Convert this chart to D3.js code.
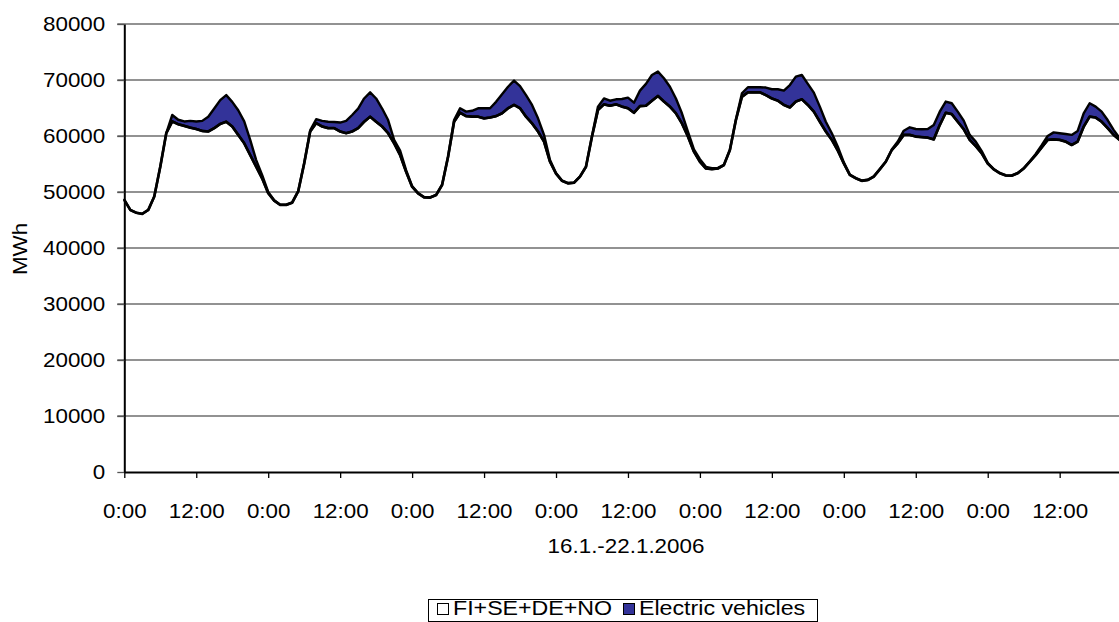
<!DOCTYPE html>
<html>
<head>
<meta charset="utf-8">
<script src="https://cdn.jsdelivr.net/npm/d3@7"></script>
<style>
  html, body { margin: 0; padding: 0; background: #fff; }
  svg { display: block; font-family: "Liberation Sans", Arial, sans-serif; }
</style>
</head>
<body>
<svg id="chart" width="1119" height="622"></svg>
<script>
// Hourly electricity demand, 16.1.–22.1.2006 (168 hours), MWh
const demand = [
  48600, 46800, 46300, 46100, 46800, 49200, 54500, 60500, 62600, 62100, 61800, 61500,
  61250, 60900, 60800, 61400, 62150, 62550, 61700, 60200, 58700, 56600, 54500, 52400,
  49800, 48450, 47700, 47700, 48100, 50100, 55100, 60800, 62300, 61700, 61400, 61400,
  60800, 60500, 60800, 61400, 62550, 63450, 62550, 61700, 60500, 58700, 56600, 53600,
  50950, 49750, 49050, 49000, 49450, 51250, 56300, 62550, 64150, 63550, 63450, 63450,
  63150, 63300, 63550, 64050, 64950, 65550, 64950, 63450, 62250, 60800, 59000, 55400,
  53300, 52000, 51550, 51650, 52750, 54500, 59900, 64650, 65650, 65400, 65650, 65250,
  64950, 64150, 65350, 65400, 66300, 67150, 66150, 65250, 64050, 62250, 59900, 57200,
  55400, 54200, 54100, 54200, 54800, 57500, 62850, 67000, 67800, 67800, 67800, 67300,
  66700, 66300, 65550, 65100, 66150, 66550, 65550, 64350, 62550, 60800, 59300, 57400,
  55100, 53050, 52450, 52000, 52150, 52750, 54050, 55400, 57500, 58700, 60200, 60200,
  59900, 59800, 59700, 59400, 61950, 64150, 63900, 62550, 61200, 59300, 58200, 56900,
  55100, 54050, 53350, 52950, 52900, 53350, 54200, 55400, 56600, 57950, 59300, 59400,
  59300, 59000, 58400, 59000, 61650, 63450, 63300, 62550, 61400, 60200, 59300, 57800
];

// Additional load from charging electric vehicles, MWh
const electricVehicles = [
   0,    0,    0,    0,    0,    0,    0,    0, 1150,  800,  800, 1200,
  1350, 1800, 2650, 3500, 4250, 4750, 4400, 4400, 3900, 2700, 1200,  600,
   200,  100,   50,   50,   50,   50,  100,  200,  700, 1000, 1150, 1100,
  1600, 2200, 2950, 3500, 4150, 4350, 4150, 3200, 2350,  600,  800,  300,
   100,   50,   50,   50,   50,   50,  100,  300,  800,  800, 1050, 1500,
  1800, 1650, 2550, 3400, 3850, 4350, 3950, 3850, 3300, 2350, 1200,  300,
   100,   50,   50,   50,   50,   50,  100,  600, 1050,  900,  900, 1350,
  1900, 1800, 2750, 3900, 4600, 4350, 4150, 3550, 2650, 1800,  900,  400,
   450,  300,  150,  100,   50,   50,  100,  600,  900,  900,  900, 1350,
  1650, 2050, 2550, 4000, 4450, 4350, 3750, 3400, 2700, 1750, 1200,  700,
   200,   50,   50,   50,   50,   50,   50,   50,  100,  300,  750, 1350,
  1350, 1400, 1550, 2550, 2400, 2000, 1950, 1800, 1550,  900,  800,  400,
   100,   50,   50,   50,   50,   50,   50,   50,  200,  400,  700, 1250,
  1200, 1350, 1800, 1900, 2400, 2400, 1950, 1800, 1450,  900,  300,  200
];

const seriesNames = ["FI+SE+DE+NO", "Electric vehicles"];
const yTicks = [0, 10000, 20000, 30000, 40000, 50000, 60000, 70000, 80000];
const xTickHours = [0, 12, 24, 36, 48, 60, 72, 84, 96, 108, 120, 132, 144, 156];
const xTickLabels = ["0:00", "12:00", "0:00", "12:00", "0:00", "12:00", "0:00",
                     "12:00", "0:00", "12:00", "0:00", "12:00", "0:00", "12:00"];
const xTitle = "16.1.-22.1.2006";
const yTitle = "MWh";

const colors = { base: "#ffffff", ev: "#333399" };
const SX = 1.12;           // horizontal stretch applied to all text
const FONT = 20;

const svg = d3.select("#chart");

const plotLeft = 124.3, plotTop = 24, plotBottom = 472;
const hourPx = 5.996;
const x = d3.scaleLinear().domain([0, 168]).range([plotLeft, plotLeft + 168 * hourPx]);
const y = d3.scaleLinear().domain([0, 80000]).range([plotBottom, plotTop]);

const rows = demand.map((d, i) => ({ hour: i, base: d, ev: electricVehicles[i] }));
const stacked = d3.stack().keys(["base", "ev"])(rows);

// horizontal gridlines
svg.append("g")
  .selectAll("line")
  .data(yTicks.filter(v => v > 0))
  .join("line")
  .attr("x1", plotLeft - 7).attr("x2", 1119)
  .attr("y1", d => y(d)).attr("y2", d => y(d))
  .attr("stroke", "#6e6e6e").attr("stroke-width", 1.3);

// EV band on top of the demand curve
const evArea = d3.area()
  .x((d, i) => x(i))
  .y0(d => y(d[0]))
  .y1(d => y(d[1]));
svg.append("path")
  .datum(stacked[1])
  .attr("d", evArea)
  .attr("fill", colors.ev)
  .attr("stroke", "#000")
  .attr("stroke-width", 2.4)
  .attr("stroke-linejoin", "round");

// demand outline
const baseLine = d3.line()
  .x((d, i) => x(i))
  .y(d => y(d[1]));
svg.append("path")
  .datum(stacked[0])
  .attr("d", baseLine)
  .attr("fill", "none")
  .attr("stroke", "#000")
  .attr("stroke-width", 2.7)
  .attr("stroke-linejoin", "round");

// y axis
const yAxis = svg.append("g")
  .attr("transform", `translate(${plotLeft},0)`)
  .call(d3.axisLeft(y).tickValues(yTicks).tickFormat(d3.format("d"))
    .tickSize(7).tickPadding(10).tickSizeOuter(0));
yAxis.select(".domain").attr("stroke", "#000").attr("stroke-width", 2);
yAxis.selectAll(".tick line").attr("stroke", "#555").attr("stroke-width", 1.3);
yAxis.selectAll("text")
  .attr("font-size", FONT).attr("fill", "#000")
  .attr("font-family", "Liberation Sans, Arial, sans-serif")
  .attr("transform", `scale(${SX},1)`);

// x axis
const xAxis = svg.append("g")
  .attr("transform", `translate(0,${plotBottom})`)
  .call(d3.axisBottom(x).tickValues(xTickHours)
    .tickFormat((d, i) => xTickLabels[i]).tickSize(6).tickPadding(26).tickSizeOuter(0));
xAxis.select(".domain").attr("stroke", "#000").attr("stroke-width", 2.2);
xAxis.selectAll(".tick line").attr("stroke", "#000").attr("stroke-width", 1.3);
xAxis.selectAll("text")
  .attr("font-size", FONT).attr("fill", "#000")
  .attr("font-family", "Liberation Sans, Arial, sans-serif")
  .attr("transform", `scale(${SX},1)`);

// axis titles
function label(px, py, txt, opts = {}) {
  const g = svg.append("g").attr("transform", `translate(${px},${py})${opts.rotate ? ` rotate(${opts.rotate})` : ""}`);
  return g.append("text")
    .attr("transform", `scale(${SX},1)`)
    .attr("text-anchor", opts.anchor || "middle")
    .attr("font-size", opts.size || FONT)
    .attr("fill", "#000")
    .text(txt);
}
label(626, 553, xTitle);
label(27, 249, yTitle, { rotate: -90 });

// legend
const lg = svg.append("g");
lg.append("rect")
  .attr("x", 428.5).attr("y", 599.5).attr("width", 389).attr("height", 22)
  .attr("fill", "#fff").attr("stroke", "#000").attr("stroke-width", 1);
const legendItems = [
  { name: seriesNames[0], fill: colors.base, sx: 437.5, tx: 453 },
  { name: seriesNames[1], fill: colors.ev, sx: 623.5, tx: 639 }
];
legendItems.forEach(it => {
  lg.append("rect")
    .attr("x", it.sx).attr("y", 603.5).attr("width", 11).attr("height", 11)
    .attr("fill", it.fill).attr("stroke", "#000").attr("stroke-width", 1);
  const g = lg.append("g").attr("transform", `translate(${it.tx},615)`);
  g.append("text")
    .attr("transform", `scale(${SX + 0.04},1)`)
    .attr("font-size", FONT).attr("fill", "#000")
    .text(it.name);
});
</script>
</body>
</html>
